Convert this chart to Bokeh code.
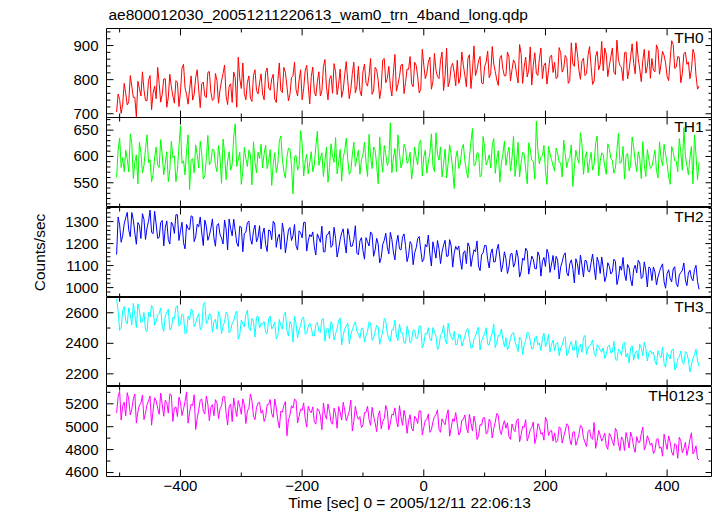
import numpy as np
from bokeh.plotting import figure
from bokeh.layouts import column
from bokeh.models import LinearAxis, Range1d, SingleIntervalTicker, Label
from bokeh.embed import file_html
from bokeh.resources import INLINE

# ---------------- data ----------------
title_text = "ae800012030_20051211220613_wam0_trn_4band_long.qdp"
x_label = "Time [sec] 0 = 2005/12/11 22:06:13"
y_label = "Counts/sec"
band_names = ["TH0", "TH1", "TH2", "TH3", "TH0123"]
band_colors = ["#ff0000", "#00ff00", "#0000ff", "#00ffff", "#ff00ff"]
t_start = -505.0
t_step = 2.5          # bins: *_a values at even bins, *_b values at odd bins
x_limits = (-521.6, 474.6)
x_tick_interval = 200
x_minor_count = 2
x_tick_labels = {-400: "\u2212400", -200: "\u2212200", 0: "0", 200: "200", 400: "400"}
y_limits = [(689, 950), (503, 674), (955, 1364), (2117, 2700), (4565, 5351)]
y_tick_interval = [100, 50, 100, 200, 200]
y_minor_count = [5, 5, 5, 2, 2]

th0_a = [
    705, 742, 728, 760, 735, 781, 748, 795, 752, 770, 738, 812, 761, 744, 789, 757,
    803, 748, 779, 731, 792, 764, 845, 757, 772, 740, 806, 769, 788, 752, 821, 763,
    744, 797, 770, 818, 752, 781, 733, 806, 866, 774, 759, 792, 745, 812, 768, 790,
    758, 821, 776, 802, 743, 795, 768, 836, 781, 757, 812, 770, 799, 741, 826, 784,
    809, 765, 794, 752, 838, 779, 801, 760, 823, 786, 748, 815, 797, 772, 851, 780,
    768, 824, 791, 812, 757, 836, 798, 775, 862, 803, 781, 820, 766, 809, 845, 792,
    830, 788, 851, 807, 772, 843, 819, 866, 794, 828, 803, 881, 812, 779, 838, 821,
    857, 806, 842, 779, 873, 826, 812, 855, 791, 838, 884, 817, 846, 799, 862, 831,
    812, 867, 829, 848, 790, 875, 837, 808, 896, 842, 819, 861, 803, 849, 826, 872,
    851, 808, 879, 833, 862, 797, 846, 908, 828, 854, 812, 871, 839, 796, 883, 845,
    826, 874, 841, 893, 815, 858, 836, 879, 802, 867, 848, 912, 831, 856, 819, 885,
    862, 823, 889, 847, 871, 809, 858, 903, 837, 866, 818, 881, 852, 829, 874, 772,
]
th0_b = [
    758, 701, 789, 726, 812, 748, 691, 774, 823, 739, 798, 712, 781, 836, 734, 802,
    719, 816, 752, 797, 721, 834, 776, 728, 811, 757, 829, 718, 793, 747, 824, 739,
    818, 731, 796, 843, 727, 788, 822, 719, 803, 849, 741, 811, 736, 829, 758, 817,
    741, 834, 769, 816, 733, 849, 762, 821, 738, 806, 851, 752, 829, 773, 842, 729,
    837, 752, 823, 768, 859, 741, 812, 847, 756, 831, 769, 853, 744, 818, 761, 839,
    752, 846, 781, 862, 767, 829, 744, 858, 791, 839, 752, 874, 786, 843, 759, 831,
    868, 779, 842, 761, 889, 803, 851, 772, 877, 809, 856, 768, 892, 796, 848, 782,
    789, 881, 813, 862, 774, 899, 829, 868, 787, 852, 806, 897, 824, 783, 871, 811,
    881, 796, 858, 817, 903, 789, 866, 828, 784, 879, 812, 893, 842, 787, 867, 821,
    803, 894, 822, 871, 789, 908, 839, 876, 801, 863, 818, 897, 786, 868, 829, 912,
    893, 809, 867, 822, 916, 841, 797, 881, 829, 905, 817, 862, 794, 889, 838, 804,
    827, 902, 816, 883, 849, 797, 914, 833, 868, 791, 876, 845, 803, 889, 812, 781,
]
th1_a = [
    560, 635, 598, 612, 571, 624, 589, 548, 607, 583, 641, 594, 566, 618, 579, 603,
    587, 552, 629, 601, 574, 658, 592, 611, 537, 596, 622, 578, 605, 563, 640, 589,
    612, 571, 598, 633, 556, 609, 585, 662, 594, 547, 617, 581, 603, 628, 569, 596,
    578, 621, 592, 545, 607, 586, 639, 571, 598, 614, 529, 602, 583, 625, 591, 567,
    609, 584, 648, 596, 562, 618, 579, 601, 636, 588, 553, 611, 594, 572, 627, 598,
    566, 603, 589, 642, 577, 612, 548, 595, 621, 583, 664, 597, 571, 606, 589, 615,
    592, 557, 618, 584, 631, 599, 568, 607, 582, 645, 593, 561, 614, 587, 603, 539,
    611, 586, 623, 572, 598, 653, 584, 606, 565, 617, 592, 578, 634, 596, 551, 604,
    583, 618, 597, 562, 627, 589, 605, 548, 614, 591, 667, 586, 602, 573, 619, 594,
    572, 606, 588, 631, 579, 598, 543, 612, 587, 624, 596, 569, 608, 585, 639, 591,
    603, 566, 615, 592, 578, 644, 589, 557, 606, 583, 618, 571, 597, 628, 562, 594,
    581, 612, 559, 597, 623, 586, 547, 608, 591, 634, 574, 602, 565, 619, 641, 556,
]
th1_b = [
    612, 579, 571, 595, 643, 558, 603, 627, 569, 615, 588, 552, 597, 584, 632, 565,
    609, 574, 598, 552, 619, 587, 565, 641, 593, 569, 603, 629, 557, 596, 584, 614,
    583, 621, 549, 606, 591, 574, 637, 581, 608, 572, 596, 612, 546, 589, 608, 623,
    605, 577, 613, 586, 569, 629, 595, 559, 616, 583, 600, 574, 649, 563, 604, 588,
    571, 619, 583, 607, 592, 551, 624, 589, 567, 613, 598, 635, 566, 603, 581, 612,
    594, 627, 562, 601, 618, 583, 637, 570, 604, 592, 569, 615, 641, 578, 623, 587,
    608, 581, 597, 626, 563, 612, 589, 643, 571, 604, 618, 586, 559, 622, 575, 597,
    577, 614, 592, 559, 628, 583, 607, 561, 638, 584, 603, 621, 568, 611, 587, 629,
    603, 572, 639, 589, 561, 608, 575, 626, 593, 557, 612, 599, 621, 547, 605, 582,
    616, 589, 561, 604, 593, 622, 578, 597, 645, 566, 609, 591, 574, 625, 563, 607,
    581, 624, 596, 568, 612, 587, 619, 601, 573, 637, 592, 609, 558, 584, 613, 577,
    596, 573, 628, 582, 604, 561, 619, 592, 571, 609, 655, 583, 597, 548, 603, 589,
]
th2_a = [
    1150, 1285, 1236, 1318, 1262, 1341, 1248, 1296, 1223, 1310, 1271, 1352, 1245, 1289, 1228, 1305,
    1272, 1219, 1298, 1246, 1331, 1258, 1204, 1287, 1263, 1322, 1231, 1276, 1248, 1307, 1215, 1269,
    1226, 1283, 1241, 1198, 1267, 1312, 1235, 1259, 1187, 1274, 1246, 1295, 1222, 1258, 1208, 1281,
    1243, 1196, 1262, 1218, 1289, 1227, 1174, 1251, 1209, 1273, 1235, 1190, 1258, 1226, 1297, 1212,
    1231, 1185, 1244, 1206, 1163, 1238, 1257, 1192, 1224, 1175, 1249, 1203, 1268, 1187, 1219, 1156,
    1212, 1168, 1227, 1189, 1243, 1171, 1198, 1136, 1215, 1184, 1251, 1162, 1203, 1176, 1229, 1191,
    1147, 1196, 1158, 1223, 1171, 1129, 1185, 1152, 1208, 1134, 1176, 1162, 1215, 1143, 1189, 1157,
    1172, 1125, 1158, 1109, 1186, 1137, 1163, 1098, 1149, 1192, 1127, 1154, 1116, 1171, 1139, 1105,
    1131, 1094, 1156, 1112, 1138, 1073, 1124, 1167, 1102, 1129, 1085, 1143, 1118, 1096, 1152, 1107,
    1081, 1126, 1093, 1147, 1068, 1109, 1087, 1131, 1059, 1102, 1124, 1076, 1113, 1091, 1138, 1064,
    1088, 1051, 1097, 1072, 1119, 1043, 1079, 1062, 1105, 1038, 1083, 1067, 1112, 1049, 1076, 1094,
    1032, 1071, 1048, 1093, 1026, 1064, 1041, 1085, 1019, 1057, 1078, 1035, 1066, 1043, 1082, 1028,
]
th2_b = [
    1321, 1206, 1289, 1342, 1231, 1308, 1197, 1283, 1336, 1219, 1302, 1251, 1347, 1224, 1296, 1189,
    1303, 1198, 1285, 1331, 1214, 1297, 1176, 1268, 1326, 1209, 1288, 1321, 1191, 1279, 1237, 1312,
    1188, 1291, 1226, 1307, 1172, 1268, 1311, 1203, 1279, 1163, 1252, 1302, 1197, 1284, 1228, 1176,
    1271, 1164, 1258, 1302, 1183, 1243, 1293, 1158, 1262, 1214, 1287, 1171, 1249, 1296, 1166, 1241,
    1253, 1148, 1226, 1279, 1162, 1242, 1183, 1274, 1139, 1218, 1267, 1157, 1236, 1189, 1281, 1149,
    1227, 1129, 1208, 1253, 1142, 1224, 1112, 1196, 1247, 1153, 1219, 1126, 1238, 1171, 1244, 1118,
    1209, 1104, 1181, 1232, 1117, 1196, 1239, 1098, 1172, 1214, 1109, 1193, 1142, 1218, 1093, 1187,
    1189, 1083, 1167, 1203, 1096, 1172, 1212, 1077, 1158, 1191, 1089, 1176, 1118, 1197, 1072, 1163,
    1064, 1152, 1093, 1171, 1048, 1134, 1179, 1061, 1143, 1087, 1162, 1052, 1137, 1174, 1069, 1146,
    1142, 1039, 1117, 1158, 1053, 1126, 1021, 1109, 1148, 1048, 1121, 1071, 1152, 1036, 1114, 1139,
    1027, 1113, 1062, 1129, 1014, 1098, 1137, 1032, 1091, 1008, 1102, 1124, 1041, 1117, 1003, 1087,
    1094, 1012, 1073, 1108, 997, 1081, 1026, 1095, 1004, 1068, 1112, 1009, 1079, 1031, 1101, 992,
]
th3_a = [
    2690, 2485, 2612, 2548, 2633, 2521, 2587, 2659, 2534, 2602, 2476, 2571, 2628, 2543, 2596, 2512,
    2579, 2623, 2498, 2561, 2647, 2527, 2583, 2469, 2554, 2612, 2531, 2595, 2503, 2668, 2549, 2587,
    2541, 2492, 2575, 2516, 2604, 2468, 2533, 2589, 2427, 2552, 2508, 2617, 2483, 2546, 2571, 2499,
    2524, 2471, 2559, 2493, 2538, 2447, 2516, 2582, 2484, 2543, 2408, 2527, 2491, 2566, 2459, 2512,
    2503, 2448, 2536, 2472, 2561, 2491, 2429, 2517, 2463, 2548, 2389, 2496, 2532, 2455, 2519, 2477,
    2433, 2498, 2452, 2541, 2419, 2476, 2507, 2438, 2563, 2464, 2412, 2489, 2447, 2526, 2469, 2401,
    2472, 2418, 2485, 2436, 2512, 2397, 2458, 2429, 2503, 2446, 2381, 2467, 2424, 2531, 2441, 2479,
    2396, 2453, 2412, 2488, 2431, 2374, 2447, 2506, 2418, 2462, 2393, 2439, 2528, 2407, 2451, 2426,
    2437, 2385, 2462, 2409, 2346, 2428, 2391, 2473, 2413, 2368, 2447, 2402, 2431, 2376, 2458, 2394,
    2352, 2408, 2369, 2431, 2318, 2387, 2356, 2419, 2373, 2341, 2452, 2366, 2398, 2334, 2391, 2357,
    2371, 2326, 2389, 2342, 2297, 2363, 2321, 2408, 2336, 2372, 2289, 2351, 2394, 2318, 2366, 2338,
    2331, 2284, 2352, 2306, 2267, 2338, 2297, 2361, 2243, 2312, 2275, 2346, 2291, 2258, 2327, 2286,
]
th3_b = [
    2612, 2498, 2641, 2527, 2589, 2662, 2503, 2618, 2546, 2491, 2603, 2647, 2519, 2584, 2632, 2478,
    2601, 2487, 2569, 2634, 2512, 2593, 2461, 2578, 2625, 2508, 2571, 2489, 2656, 2527, 2594, 2473,
    2557, 2609, 2462, 2538, 2593, 2481, 2547, 2612, 2455, 2526, 2588, 2499, 2563, 2441, 2578, 2532,
    2543, 2462, 2579, 2511, 2428, 2556, 2493, 2604, 2447, 2523, 2579, 2436, 2514, 2571, 2468, 2531,
    2449, 2523, 2478, 2557, 2414, 2502, 2543, 2421, 2497, 2566, 2452, 2511, 2398, 2488, 2541, 2462,
    2497, 2408, 2479, 2532, 2436, 2518, 2393, 2476, 2541, 2427, 2489, 2552, 2418, 2471, 2403, 2512,
    2403, 2487, 2429, 2514, 2371, 2468, 2502, 2416, 2477, 2359, 2452, 2519, 2397, 2474, 2423, 2389,
    2461, 2382, 2446, 2497, 2368, 2429, 2483, 2357, 2441, 2502, 2389, 2463, 2372, 2452, 2494, 2378,
    2356, 2433, 2472, 2381, 2441, 2327, 2419, 2468, 2362, 2437, 2389, 2352, 2467, 2408, 2343, 2421,
    2398, 2319, 2387, 2443, 2336, 2412, 2357, 2304, 2394, 2437, 2328, 2385, 2422, 2314, 2376, 2341,
    2301, 2379, 2336, 2412, 2287, 2352, 2398, 2309, 2271, 2384, 2337, 2296, 2369, 2408, 2284, 2353,
    2342, 2259, 2321, 2376, 2243, 2318, 2357, 2226, 2298, 2349, 2263, 2335, 2212, 2304, 2361, 2248,
]
th0123_a = [
    5120, 5310, 5180, 5095, 5240, 5150, 5285, 5130, 5205, 5062, 5190, 5268, 5143, 5227, 5108, 5196,
    5231, 5118, 5276, 5164, 5089, 5213, 5152, 5304, 5127, 5185, 4975, 5148, 5242, 5111, 5197, 5170,
    5096, 5208, 5155, 5263, 5121, 5178, 5044, 5162, 5229, 5108, 5191, 5137, 5286, 5093, 5167, 5214,
    5145, 5082, 5196, 5113, 5241, 5058, 5136, 5187, 4921, 5104, 5162, 5229, 5091, 5143, 5074, 5178,
    5121, 5043, 5158, 5092, 5207, 5066, 5134, 5021, 5112, 5176, 5058, 5143, 5089, 5231, 5047, 5102,
    5088, 5017, 5125, 5063, 5169, 5034, 5097, 4982, 5071, 5138, 5029, 5102, 5056, 5183, 5011, 5079,
    5052, 4986, 5091, 5028, 5137, 4994, 5063, 4951, 5042, 5105, 4978, 5069, 5017, 5148, 4989, 5046,
    5027, 4953, 5064, 4996, 5108, 4962, 5031, 4918, 5012, 5079, 4947, 5038, 4984, 5115, 4971, 5009,
    4987, 4912, 5024, 4958, 5069, 4931, 4995, 4876, 4973, 5041, 4906, 4998, 4947, 5083, 4922, 4969,
    4946, 4878, 4987, 4915, 5026, 4889, 4952, 4838, 4931, 4998, 4864, 4957, 4903, 5036, 4877, 4925,
    4905, 4833, 4942, 4871, 4986, 4849, 4911, 4792, 4889, 4953, 4821, 4914, 4862, 4997, 4836, 4884,
    4858, 4791, 4897, 4823, 4935, 4802, 4866, 4749, 4841, 4908, 4773, 4864, 4812, 4947, 4786, 4718,
]
th0123_b = [
    5262, 5058, 5214, 5297, 5103, 5241, 5032, 5189, 5276, 5118, 5226, 5013, 5253, 5162, 5294, 5091,
    5209, 5287, 5046, 5173, 5258, 5097, 5221, 5031, 5196, 5279, 5074, 5232, 5135, 5268, 5052, 5193,
    5236, 5071, 5182, 5263, 5014, 5198, 5251, 5089, 5177, 5243, 5028, 5161, 5226, 5062, 5207, 5118,
    5046, 5193, 5237, 5081, 5164, 4988, 5126, 5219, 5057, 5183, 5241, 5032, 5152, 5208, 4996, 5141,
    5173, 5022, 5146, 4974, 5109, 5198, 5041, 5162, 4986, 5127, 5213, 5053, 5136, 4962, 5178, 5064,
    4991, 5124, 5178, 5012, 5093, 4957, 5139, 5047, 5186, 4973, 5108, 5164, 4998, 5087, 5143, 4942,
    5104, 4962, 5071, 5139, 4928, 5057, 5112, 4973, 5089, 5147, 4951, 5036, 5098, 4917, 5069, 5124,
    4927, 5058, 5103, 4946, 5031, 5092, 4888, 5019, 5077, 4936, 5066, 4902, 5041, 5098, 4931, 5052,
    5034, 4889, 4978, 5052, 4867, 5003, 5061, 4918, 4994, 4853, 5027, 4936, 4882, 5048, 4957, 4874,
    4863, 4998, 4857, 4962, 5007, 4841, 4956, 4881, 5012, 4902, 4826, 4973, 4889, 4811, 4967, 4874,
    4943, 4802, 4917, 4835, 4958, 4791, 4886, 4949, 4813, 4907, 4776, 4864, 4938, 4797, 4921, 4838,
    4766, 4889, 4812, 4742, 4863, 4918, 4779, 4852, 4724, 4877, 4808, 4749, 4891, 4763, 4832, 4711,
]
series = [(th0_a, th0_b), (th1_a, th1_b), (th2_a, th2_b), (th3_a, th3_b), (th0123_a, th0123_b)]

# ---------------- styling / layout ----------------
FONT = "Liberation Sans"
FS_TICK = "15px"
FS_TEXT = "15.5px"
W = 712
LEFT, RIGHT, TOP, BOTTOM = 106, 0, 27, 40
OVERHANG = 6  # extra room below panel 1 so its lowest tick label is not cut
frame_heights = [90, 90, 90, 89, 90]
FRAME_W = W - LEFT - RIGHT
MAJ_LEN, MIN_LEN = 7.0, 4.0  # tick lengths in px


def tick_values(lo, hi, interval, n_minor):
    step = interval / n_minor
    first = np.ceil(lo / step) * step
    vals = np.arange(first, hi + 1e-9, step)
    major = [v for v in vals if abs(v / interval - round(v / interval)) < 1e-9]
    minor = [v for v in vals if abs(v / interval - round(v / interval)) >= 1e-9]
    return major, minor


figs = []
for k in range(5):
    is_top = k == 0
    is_bot = k == 4
    fh = frame_heights[k]
    bottom_border = BOTTOM if is_bot else (OVERHANG if is_top else 0)
    h = fh + (TOP if is_top else 0) + bottom_border
    x0, x1 = x_limits
    y0, y1 = y_limits[k]
    p = figure(
        width=W, height=h, output_backend="svg", toolbar_location=None,
        x_range=Range1d(x0, x1), y_range=Range1d(y0, y1),
        x_axis_location=None, y_axis_location=None,
        min_border_left=LEFT, min_border_right=RIGHT,
        min_border_top=TOP if is_top else 0,
        min_border_bottom=bottom_border,
        title=title_text if is_top else None,
    )
    if is_top:
        p.margin = (0, 0, -OVERHANG, 0)
    p.xgrid.visible = False
    p.ygrid.visible = False
    p.outline_line_color = "black"
    p.outline_line_width = 1
    p.background_fill_alpha = 0
    p.border_fill_alpha = 0
    if is_top:
        p.title.text_font = FONT
        p.title.text_font_size = FS_TEXT
        p.title.text_font_style = "normal"
        p.title.text_color = "black"
        p.title.align = "left"
        p.title.vertical_align = "middle"
        p.title.offset = 2
        p.title.standoff = 9

    # labelled left axis (ticks drawn separately)
    yl = LinearAxis(ticker=SingleIntervalTicker(interval=y_tick_interval[k], num_minor_ticks=y_minor_count[k]))
    yl.axis_line_color = None
    yl.major_tick_line_color = None
    yl.minor_tick_line_color = None
    yl.major_tick_in = yl.major_tick_out = 0
    yl.minor_tick_in = yl.minor_tick_out = 0
    yl.major_label_text_font = FONT
    yl.major_label_text_font_size = FS_TICK
    yl.major_label_text_color = "black"
    yl.major_label_standoff = 8
    if k == 2:
        yl.axis_label = y_label
        yl.axis_label_text_font = FONT
        yl.axis_label_text_font_size = FS_TEXT
        yl.axis_label_text_font_style = "normal"
        yl.axis_label_text_color = "black"
        yl.axis_label_standoff = 14
    p.add_layout(yl, "left")

    if is_bot:
        xb = LinearAxis(ticker=SingleIntervalTicker(interval=x_tick_interval, num_minor_ticks=x_minor_count))
        xb.axis_line_color = None
        xb.major_tick_line_color = None
        xb.minor_tick_line_color = None
        xb.major_tick_in = xb.major_tick_out = 0
        xb.minor_tick_in = xb.minor_tick_out = 0
        xb.major_label_text_font = FONT
        xb.major_label_text_font_size = FS_TICK
        xb.major_label_text_color = "black"
        xb.major_label_standoff = 4
        xb.major_label_overrides = x_tick_labels
        xb.axis_label = x_label
        xb.axis_label_text_font = FONT
        xb.axis_label_text_font_size = FS_TEXT
        xb.axis_label_text_font_style = "normal"
        xb.axis_label_text_color = "black"
        xb.axis_label_standoff = 0
        p.add_layout(xb, "below")

    # inward ticks on all four sides
    dx = (x1 - x0) / FRAME_W
    dy = (y1 - y0) / fh
    xmaj, xmin_ = tick_values(x0, x1, x_tick_interval, x_minor_count)
    ymaj, ymin_ = tick_values(y0, y1, y_tick_interval[k], y_minor_count[k])
    sx0, sy0, sx1, sy1 = [], [], [], []
    for ticks, L in ((xmaj, MAJ_LEN), (xmin_, MIN_LEN)):
        for v in ticks:
            sx0 += [v, v]; sx1 += [v, v]
            sy0 += [y0, y1]; sy1 += [y0 + L * dy, y1 - L * dy]
    for ticks, L in ((ymaj, MAJ_LEN), (ymin_, MIN_LEN)):
        for v in ticks:
            sy0 += [v, v]; sy1 += [v, v]
            sx0 += [x0, x1]; sx1 += [x0 + L * dx, x1 - L * dx]
    p.segment(sx0, sy0, sx1, sy1, line_color="black", line_width=1)

    a, b = series[k]
    vals = np.empty(len(a) + len(b))
    vals[0::2] = a
    vals[1::2] = b
    t = t_start + t_step * np.arange(len(vals))
    p.line(t, vals, line_color=band_colors[k], line_width=1)

    p.add_layout(Label(
        x=x1, y=y1, x_offset=-9, y_offset=0,
        text=band_names[k], text_align="right", text_baseline="top",
        text_font=FONT, text_font_size=FS_TEXT, text_color="black",
    ))
    figs.append(p)

layout = column(*figs, spacing=0)
open("out.html", "w").write(file_html(layout, INLINE, title="qdp"))
